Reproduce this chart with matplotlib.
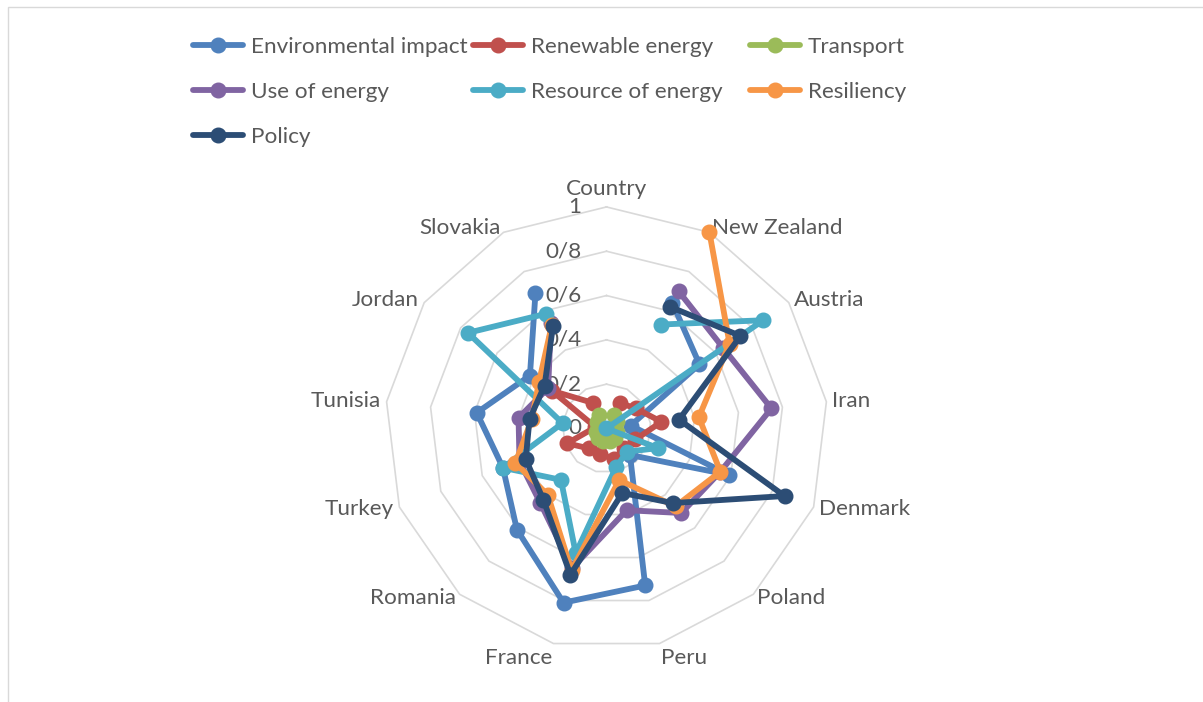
import matplotlib.pyplot as plt
from matplotlib.lines import Line2D
from matplotlib.patches import Rectangle
import numpy as np

plt.rcParams['font.family'] = ['Lato', 'DejaVu Sans']

categories = ['Country', 'New Zealand', 'Austria', 'Iran', 'Denmark', 'Poland', 'Peru',
              'France', 'Romania', 'Turkey', 'Tunisia', 'Jordan', 'Slovakia']
nan = np.nan
env_impact = [nan, 0.64, 0.51, 0.11, 0.59, 0.16, 0.73, 0.81, 0.61, 0.50, 0.59, 0.42, 0.69]
renewable = [nan, 0.13, 0.16, 0.25, 0.14, 0.12, 0.14, 0.12, 0.12, 0.19, 0.05, 0.30, 0.13]
transport = [nan, 0.07, 0.06, 0.04, 0.05, 0.06, 0.06, 0.06, 0.06, 0.05, 0.04, 0.05, 0.07]
use_energy = [nan, 0.70, 0.64, 0.75, 0.55, 0.51, 0.38, 0.65, 0.45, 0.42, 0.40, 0.32, 0.54]
resource = [nan, 0.53, 0.86, 0.00, 0.25, 0.14, 0.18, 0.58, 0.31, 0.50, 0.20, 0.76, 0.585]
resiliency = [nan, 1.00, 0.675, 0.42, 0.55, 0.47, 0.24, 0.66, 0.40, 0.44, 0.34, 0.37, 0.53]
policy = [nan, 0.62, 0.735, 0.33, 0.86, 0.45, 0.30, 0.68, 0.43, 0.39, 0.35, 0.34, 0.52]

series_names = ['Environmental impact', 'Renewable energy', 'Transport', 'Use of energy',
                'Resource of energy', 'Resiliency', 'Policy']
series_vals = [env_impact, renewable, transport, use_energy, resource, resiliency, policy]
colors = ['#4F81BD', '#C0504D', '#9BBB59', '#8064A2', '#4BACC6', '#F79646', '#2C4D75']
rings = [0.2, 0.4, 0.6, 0.8, 1.0]
ring_labels = ['0', '0/2', '0/4', '0/6', '0/8', '1']

txt = '#595959'
grid_c = '#D9D9D9'
fs = 16.2
lw = 4.2
ms = 10.5

fig = plt.figure(figsize=(12.03, 7.02), dpi=100)
fig.add_artist(Rectangle((8 / 1203, -0.1), 1.2, 1.1 - 7 / 702, transform=fig.transFigure,
                         fill=False, edgecolor=grid_c, lw=1))

ax = fig.add_axes([0.3200, 0.0741, 0.3683, 0.6311], projection='polar')
ax.set_theta_zero_location('N')
ax.set_theta_direction(-1)
ax.set_ylim(0, 1)
ax.grid(False)
ax.spines['polar'].set_visible(False)
ax.set_xticks([])
ax.set_yticks([])

n = len(categories)
theta = np.arange(n) * 2 * np.pi / n
theta_c = np.append(theta, theta[0])

# polygon grid
for r in rings:
    ax.plot(theta_c, [r] * (n + 1), color=grid_c, lw=1.2, zorder=1, clip_on=False)

# tick labels left of the top axis
for r, lab in zip([0] + rings, ring_labels):
    ax.annotate(lab, xy=(0, r), xytext=(-25, 0), textcoords='offset pixels',
                ha='right', va='center', fontsize=fs, color=txt, zorder=2)

# category labels
for t, name in zip(theta, categories):
    s = np.sin(t)
    c = np.cos(t)
    if abs(s) < 0.05:
        ha = 'center'
    elif s > 0:
        ha = 'left'
    else:
        ha = 'right'
    va = 'center'
    if c > 0.95:
        va = 'bottom'
    elif c < -0.9:
        va = 'top'
    ax.annotate(name, xy=(t, 1.0), xytext=(6 * s, 5 * c + (3 if c > 0.95 else 0)),
                textcoords='offset pixels', ha=ha, va=va, fontsize=fs, color=txt)

for vals, col in zip(series_vals, colors):
    ax.plot(theta, vals, color=col, lw=lw, marker='o', ms=ms, zorder=3, clip_on=False,
            solid_capstyle='round', solid_joinstyle='round')

# legend (row-major like Excel)
leg_x = [193, 473, 750]
leg_y = [45, 90, 135]
for i, (name, col) in enumerate(zip(series_names, colors)):
    x0 = leg_x[i % 3] / 1203
    y0 = 1 - leg_y[i // 3] / 702
    fig.add_artist(Line2D([x0, x0 + 50 / 1203], [y0, y0], color=col, lw=lw,
                          transform=fig.transFigure, solid_capstyle='round'))
    fig.add_artist(Line2D([x0 + 25 / 1203], [y0], color=col, marker='o', ms=ms,
                          transform=fig.transFigure))
    fig.text(x0 + 58 / 1203, y0 - 2 / 702, name, ha='left', va='center', fontsize=fs,
             color=txt)

fig.savefig('out.png', dpi=100)
